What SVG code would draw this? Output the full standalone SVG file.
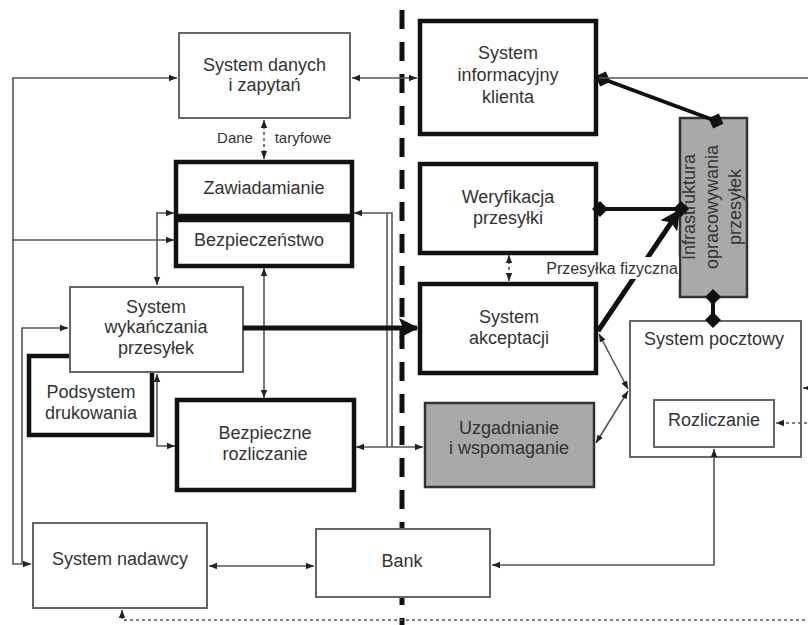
<svg xmlns="http://www.w3.org/2000/svg" width="808" height="625" viewBox="0 0 808 625">
  <defs>
    <marker id="arr" viewBox="0 0 10 10" refX="10" refY="5" markerWidth="8" markerHeight="8" markerUnits="userSpaceOnUse" orient="auto-start-reverse">
      <path d="M0,1 L10,5 L0,9 z" fill="#222"/>
    </marker>
    <marker id="big" viewBox="0 0 10 10" refX="9" refY="5" markerWidth="20" markerHeight="20" markerUnits="userSpaceOnUse" orient="auto-start-reverse">
      <path d="M0,0 L10,5 L0,10 L2,5 z" fill="#111"/>
    </marker>
    <marker id="dia" viewBox="0 0 10 10" refX="5" refY="5" markerWidth="16" markerHeight="16" markerUnits="userSpaceOnUse" orient="auto">
      <path d="M0,5 L5,0 L10,5 L5,10 z" fill="#111"/>
    </marker>
  </defs>
  <style>
    text { font-family: "Liberation Sans", Arial, sans-serif; font-size: 18px; fill: #333; text-anchor: middle; }
    .thin { fill: #fff; stroke: #666; stroke-width: 2; }
    .thick { fill: #fff; stroke: #111; stroke-width: 4.5; }
    .grey { fill: #a9a9a9; stroke: #333; stroke-width: 2.5; }
    .c { fill: none; stroke: #555; stroke-width: 1.6; }
    .cd { fill: none; stroke: #555; stroke-width: 1.6; stroke-dasharray: 3 3; }
    .heavy { fill: none; stroke: #111; stroke-width: 4; }
    .small { font-size: 15px; }
    .mid { font-size: 16px; }
  </style>
  <rect width="808" height="625" fill="#fff"/>

  <!-- boundary between the two domains -->
  <line x1="402" y1="10" x2="402" y2="625" stroke="#111" stroke-width="5" stroke-dasharray="19 13"/>

  <g id="system-danych">
    <rect class="thin" x="179" y="33" width="171" height="85"/>
    <text x="264.5" y="71">System danych</text>
    <text x="264.5" y="91">i zapytań</text>
  </g>
  <g id="system-informacyjny-klienta">
    <rect class="thick" x="420" y="21" width="176" height="113"/>
    <text x="508" y="59">System</text>
    <text x="508" y="81">informacyjny</text>
    <text x="508" y="103">klienta</text>
  </g>
  <g id="zawiadamianie">
    <rect class="thick" x="176" y="162" width="176" height="54"/>
    <text x="264" y="194">Zawiadamianie</text>
  </g>
  <g id="bezpieczenstwo">
    <rect class="thick" x="176" y="220" width="176" height="46"/>
    <text x="259" y="246">Bezpieczeństwo</text>
  </g>
  <g id="weryfikacja">
    <rect class="thick" x="420" y="164" width="176" height="89"/>
    <text x="508" y="203">Weryfikacja</text>
    <text x="508" y="224">przesyłki</text>
  </g>
  <g id="akceptacja">
    <rect class="thick" x="420" y="284" width="176" height="89"/>
    <text x="509" y="323">System</text>
    <text x="509" y="344">akceptacji</text>
  </g>
  <g id="uzgadnianie">
    <rect class="grey" x="425" y="403" width="169" height="84"/>
    <text x="509" y="434">Uzgadnianie</text>
    <text x="509" y="454">i wspomaganie</text>
  </g>
  <g id="infrastruktura">
    <rect class="grey" x="680" y="118" width="67" height="179"/>
    <text transform="translate(695,207) rotate(-90)">Infrastruktura</text>
    <text transform="translate(718,207) rotate(-90)">opracowywania</text>
    <text transform="translate(741,207) rotate(-90)">przesyłek</text>
  </g>
  <g id="system-pocztowy">
    <rect class="thin" x="630" y="321" width="171" height="136"/>
    <text x="714" y="345">System pocztowy</text>
  </g>
  <g id="rozliczanie">
    <rect class="thin" x="654" y="400" width="120" height="47"/>
    <text x="714" y="426">Rozliczanie</text>
  </g>
  <g id="podsystem-drukowania">
    <rect class="thick" x="29" y="356" width="123" height="79"/>
    <text x="91" y="398">Podsystem</text>
    <text x="91" y="419">drukowania</text>
  </g>
  <g id="system-wykanczania">
    <rect class="thin" x="70" y="287" width="173" height="85"/>
    <text x="156" y="313">System</text>
    <text x="156" y="333">wykańczania</text>
    <text x="156" y="354">przesyłek</text>
  </g>
  <g id="bezpieczne-rozliczanie">
    <rect class="thick" x="177" y="400" width="177" height="90"/>
    <text x="265" y="439">Bezpieczne</text>
    <text x="265" y="460">rozliczanie</text>
  </g>
  <g id="system-nadawcy">
    <rect class="thin" x="33" y="523" width="174" height="85"/>
    <text x="120" y="565">System nadawcy</text>
  </g>
  <g id="bank">
    <rect class="thin" x="316" y="529" width="174" height="68"/>
    <text x="402" y="567">Bank</text>
  </g>

  <g id="connectors">
    <path class="c" d="M177,78 L13,78 L13,564 L31,564" marker-start="url(#arr)" marker-end="url(#arr)"/>
    <path class="c" d="M13,240 L174,240" marker-end="url(#arr)"/>
    <path class="c" d="M22,564 L22,328 L68,328" marker-end="url(#arr)"/>
    <path class="c" d="M352,78 L417,78" marker-start="url(#arr)" marker-end="url(#arr)"/>
    <path class="cd" d="M264,120 L264,159" marker-start="url(#arr)" marker-end="url(#arr)"/>
    <path class="c" d="M174,213 L157,213 L157,285" marker-start="url(#arr)" marker-end="url(#arr)"/>
    <path class="c" d="M354,213 L392,213 L392,447" marker-start="url(#arr)"/>
    <path class="c" d="M387,213 L387,447"/>
    <path class="c" d="M356,447 L423,447" marker-start="url(#arr)" marker-end="url(#arr)"/>
    <path class="c" d="M264,268 L264,398" marker-start="url(#arr)" marker-end="url(#arr)"/>
    <path d="M243,328 L417,328" fill="none" stroke="#111" stroke-width="5" marker-end="url(#big)"/>
    <path class="c" d="M157,374 L157,446 L175,446" marker-start="url(#arr)" marker-end="url(#arr)"/>
    <path class="cd" d="M509,255 L509,281" marker-start="url(#arr)" marker-end="url(#arr)"/>
    <path class="heavy" d="M600,209 L681,209" marker-start="url(#dia)" marker-end="url(#dia)"/>
    <path class="heavy" d="M603,79 L716,121" marker-start="url(#dia)" marker-end="url(#dia)"/>
    <path d="M598,331 L679,211" fill="none" stroke="#111" stroke-width="5" marker-end="url(#big)"/>
    <path class="heavy" d="M713,297 L713,320" marker-start="url(#dia)" marker-end="url(#dia)"/>
    <path class="c" d="M599,334 L628,389" marker-start="url(#arr)" marker-end="url(#arr)"/>
    <path class="c" d="M596,443 L628,391" marker-start="url(#arr)" marker-end="url(#arr)"/>
    <path class="c" d="M714,449 L714,565 L492,565" marker-start="url(#arr)" marker-end="url(#arr)"/>
    <path class="c" d="M209,566 L314,566" marker-start="url(#arr)" marker-end="url(#arr)"/>
    <path class="c" d="M599,78 L815,78 L815,388 L803,388" marker-end="url(#arr)"/>
    <path class="cd" d="M122,610 L122,620 L820,620 L820,423 L776,423" marker-start="url(#arr)" marker-end="url(#arr)"/>
    <!-- label of the physical flow -->
    <rect x="545" y="257" width="134" height="22" fill="#fff"/>
    <text class="mid" x="612" y="274">Przesyłka fizyczna</text>
    <rect x="210" y="128" width="44" height="18" fill="#fff"/>
    <text class="small" x="235" y="143">Dane</text>
    <rect x="270" y="128" width="66" height="18" fill="#fff"/>
    <text class="small" x="303" y="143">taryfowe</text>
  </g>
</svg>
